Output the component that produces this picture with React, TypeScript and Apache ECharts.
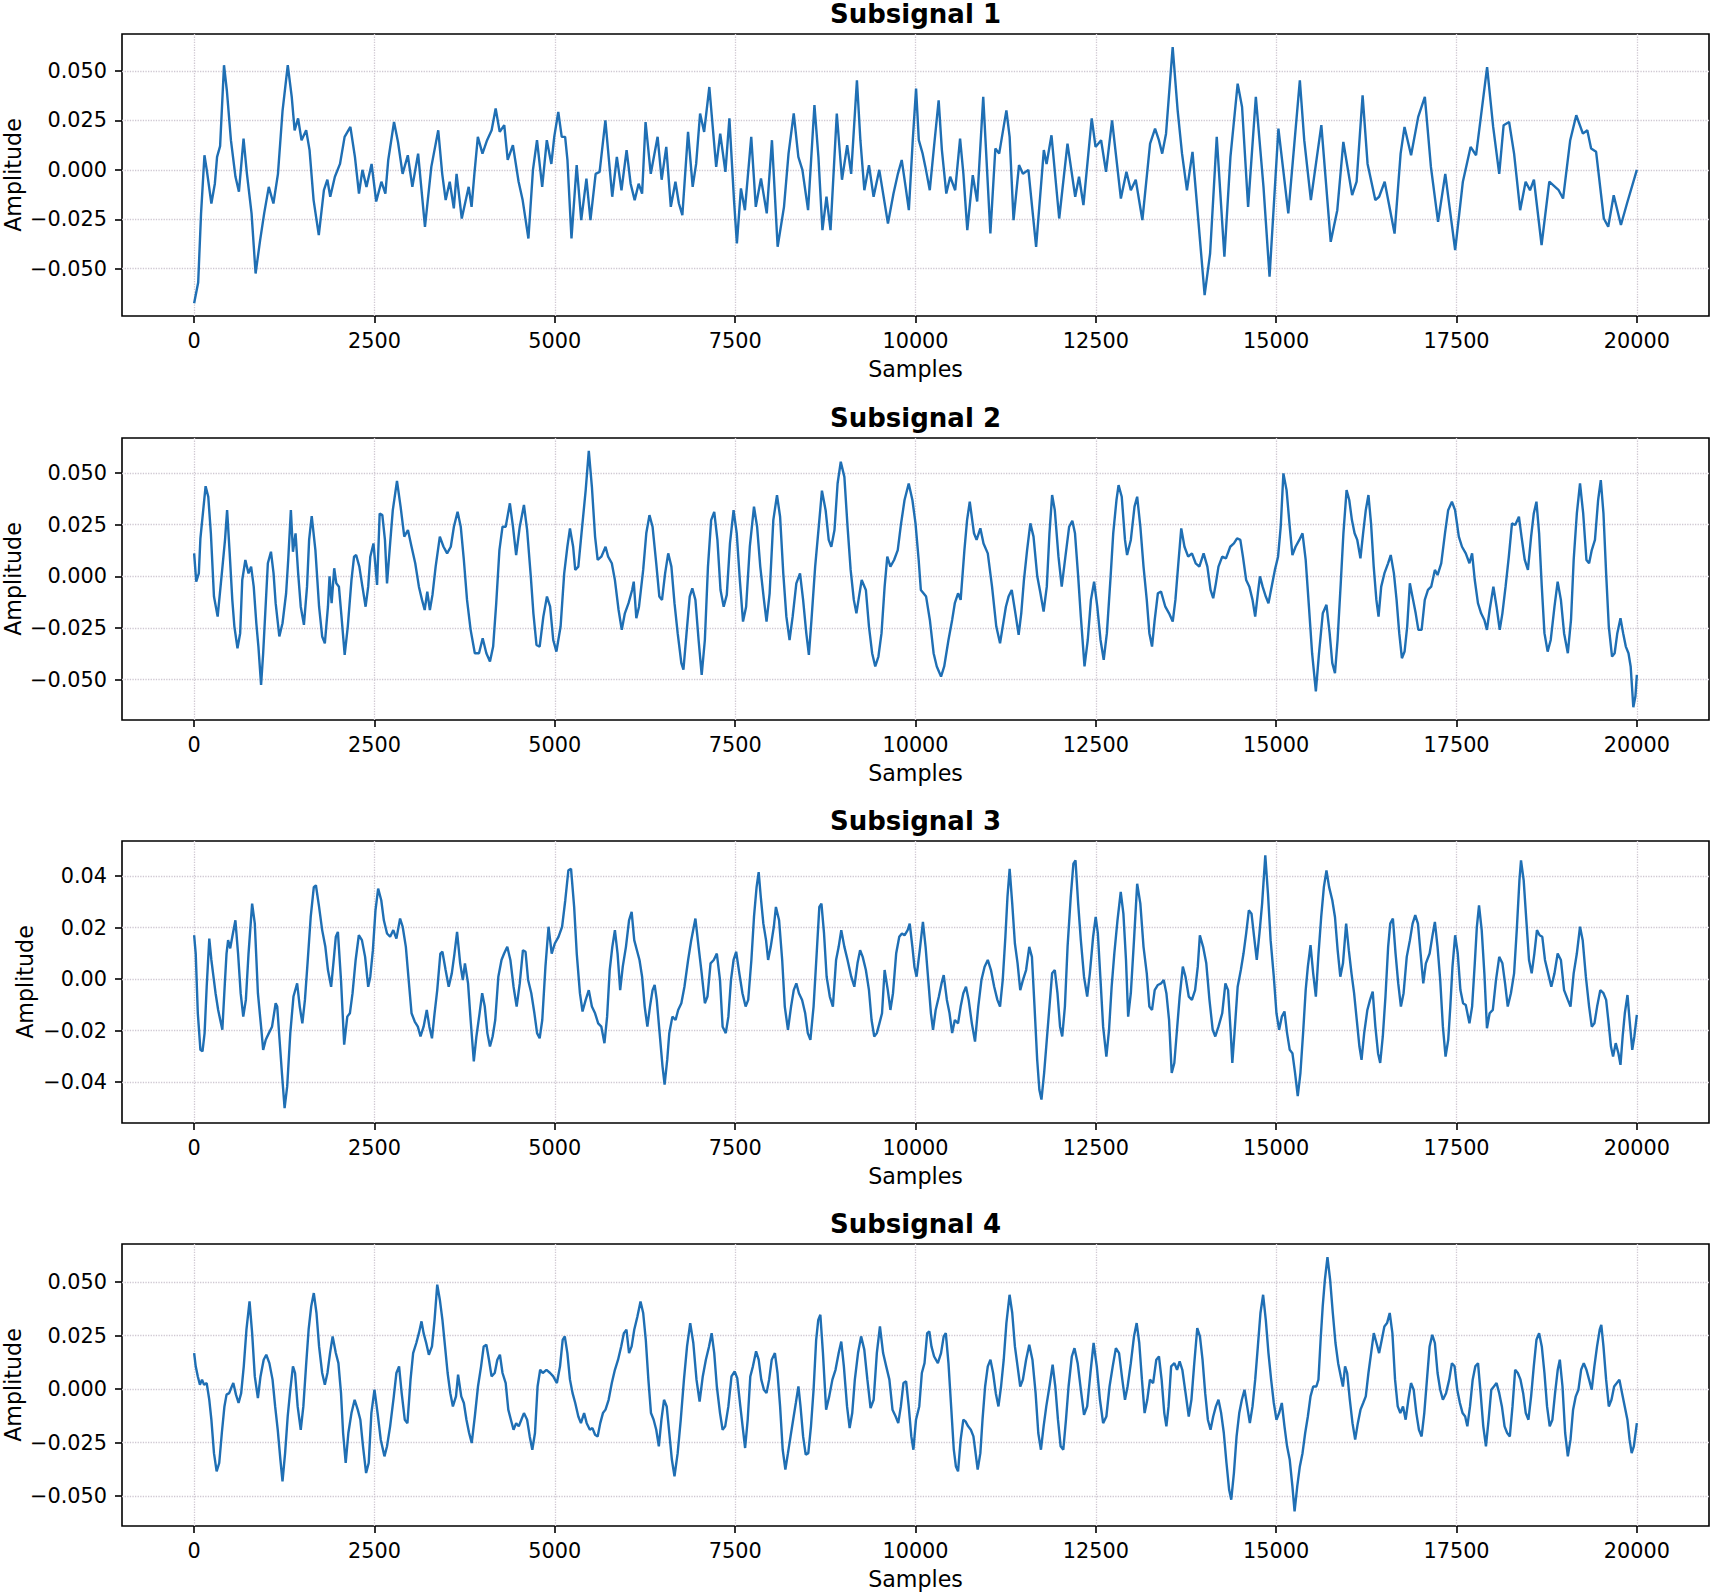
import React, { useEffect, useRef } from "react";
import * as echarts from "echarts";

// sample axis
const xTicks = [0, 2500, 5000, 7500, 10000, 12500, 15000, 17500, 20000];

// amplitude ticks per subplot
const yTicksA = [-0.05, -0.025, 0, 0.025, 0.05];
const yTicksB = [-0.04, -0.02, 0, 0.02, 0.04];

const titles = ["Subsignal 1", "Subsignal 2", "Subsignal 3", "Subsignal 4"];

// [sample, amplitude]
const sub1 = [
  [0, -0.0675], [56, -0.057], [96, -0.022], [143, 0.0074], [175, 0.0], [239, -0.017], [287, -0.007], [318, 0.0066], [360, 0.012],
  [414, 0.0529], [454, 0.04], [510, 0.015], [573, -0.0035], [621, -0.011], [685, 0.0158], [732, -0.002], [796, -0.022], [852, -0.0524],
  [915, -0.0355], [971, -0.022], [1035, -0.0086], [1099, -0.017], [1162, -0.002], [1226, 0.03], [1298, 0.0529], [1353, 0.0369],
  [1393, 0.02], [1441, 0.026], [1489, 0.015], [1553, 0.02], [1600, 0.01], [1656, -0.0153], [1728, -0.033], [1799, -0.0103],
  [1847, -0.005], [1887, -0.0136], [1951, -0.0035], [2022, 0.003], [2086, 0.0167], [2166, 0.0217], [2229, 0.0066], [2285, -0.012],
  [2333, 0.0], [2389, -0.0086], [2460, 0.003], [2524, -0.016], [2596, -0.006], [2651, -0.012], [2691, 0.005], [2771, 0.0242],
  [2826, 0.0141], [2890, -0.002], [2962, 0.0074], [3025, -0.0086], [3105, 0.0082], [3200, -0.0288], [3288, 0.0015], [3384, 0.02],
  [3439, -0.002], [3487, -0.0153], [3543, -0.006], [3600, -0.0195], [3638, -0.002], [3710, -0.0246], [3806, -0.0086], [3846, -0.0187],
  [3885, -0.002], [3933, 0.0167], [3997, 0.0082], [4061, 0.015], [4124, 0.02], [4180, 0.031], [4236, 0.0192], [4299, 0.0226],
  [4347, 0.005], [4419, 0.0125], [4498, -0.006], [4554, -0.0153], [4634, -0.0347], [4697, 0.0], [4753, 0.015], [4825, -0.0086],
  [4889, 0.015], [4952, 0.003], [4992, 0.0167], [5048, 0.0293], [5096, 0.0167], [5143, 0.0167], [5175, 0.005], [5231, -0.0347],
  [5303, 0.0024], [5366, -0.0254], [5438, -0.0044], [5494, -0.0254], [5566, -0.002], [5621, -0.001], [5701, 0.025], [5796, -0.0136],
  [5860, 0.0066], [5924, -0.0103], [5995, 0.01], [6051, -0.007], [6107, -0.0153], [6162, -0.007], [6210, -0.012], [6258, 0.0242],
  [6330, -0.002], [6425, 0.0167], [6481, -0.005], [6545, 0.0116], [6608, -0.0187], [6672, -0.006], [6720, -0.017], [6768, -0.0229],
  [6847, 0.0192], [6911, -0.0086], [6959, 0.003], [7014, 0.0285], [7070, 0.0192], [7142, 0.0419], [7189, 0.0217], [7237, 0.0015],
  [7293, 0.0183], [7365, -0.001], [7420, 0.026], [7484, -0.0153], [7524, -0.0372], [7580, -0.0094], [7635, -0.0204], [7723, 0.0167],
  [7786, -0.0187], [7858, -0.0044], [7938, -0.022], [8010, 0.015], [8089, -0.0389], [8177, -0.0187], [8240, 0.0082], [8312, 0.0285],
  [8376, 0.0066], [8432, 0.0], [8511, -0.0204], [8599, 0.0327], [8654, 0.0066], [8710, -0.0305], [8766, -0.0136], [8822, -0.0305],
  [8909, 0.0285], [8981, -0.005], [9053, 0.0125], [9108, -0.002], [9188, 0.0453], [9236, 0.015], [9291, -0.0103], [9355, 0.0024],
  [9419, -0.0136], [9498, 0.0], [9618, -0.0271], [9695, -0.012], [9756, -0.002], [9809, 0.005], [9863, -0.0086], [9908, -0.0204],
  [9962, 0.015], [10008, 0.0411], [10046, 0.015], [10099, 0.0082], [10137, 0.0015], [10198, -0.0103], [10252, 0.01], [10321, 0.0352],
  [10366, 0.01], [10427, -0.012], [10481, -0.0035], [10550, -0.0103], [10618, 0.0158], [10664, -0.002], [10718, -0.0305],
  [10794, -0.0027], [10855, -0.016], [10939, 0.0369], [11038, -0.0322], [11107, 0.0108], [11160, 0.0082], [11260, 0.0301],
  [11305, 0.0167], [11359, -0.0254], [11435, 0.0024], [11489, -0.002], [11565, 0.0], [11672, -0.0389], [11779, 0.01], [11817, 0.003],
  [11885, 0.0175], [11992, -0.0246], [12107, 0.0133], [12214, -0.0136], [12267, -0.0035], [12328, -0.0178], [12443, 0.026],
  [12496, 0.0116], [12573, 0.015], [12641, -0.001], [12725, 0.025], [12847, -0.0145], [12924, -0.001], [12985, -0.0103],
  [13053, -0.005], [13145, -0.0254], [13252, 0.0133], [13321, 0.0209], [13374, 0.015], [13420, 0.0082], [13473, 0.0183],
  [13565, 0.0621], [13634, 0.0301], [13695, 0.0082], [13763, -0.0103], [13840, 0.0091], [13901, -0.017], [14008, -0.0633],
  [14084, -0.0423], [14176, 0.0167], [14282, -0.0439], [14366, 0.0066], [14466, 0.0436], [14527, 0.0318], [14611, -0.0187],
  [14718, 0.0369], [14824, -0.0086], [14908, -0.054], [15031, 0.0209], [15168, -0.022], [15328, 0.0453], [15389, 0.015],
  [15481, -0.0153], [15626, 0.0226], [15756, -0.0364], [15847, -0.0204], [15931, 0.0141], [16053, -0.0128], [16115, -0.006],
  [16198, 0.0377], [16267, 0.003], [16374, -0.0153], [16427, -0.0136], [16504, -0.006], [16641, -0.0322], [16725, 0.0082],
  [16779, 0.0217], [16870, 0.0074], [16969, 0.0268], [17061, 0.0369], [17145, 0.0015], [17244, -0.0263], [17344, -0.002],
  [17481, -0.0406], [17588, -0.006], [17695, 0.0116], [17771, 0.0074], [17924, 0.052], [18008, 0.0217], [18092, -0.002],
  [18153, 0.0226], [18229, 0.0242], [18298, 0.0082], [18382, -0.0204], [18458, -0.006], [18519, -0.0103], [18573, -0.005],
  [18679, -0.038], [18786, -0.006], [18916, -0.0103], [18977, -0.0145], [19076, 0.015], [19160, 0.0276], [19252, 0.0183],
  [19313, 0.02], [19366, 0.0108], [19435, 0.0091], [19542, -0.0246], [19603, -0.0288], [19679, -0.0128], [19779, -0.0279],
  [19863, -0.017], [20000, 0.0],
];

const sub2 = [
  [0, 0.0111], [29, -0.0026], [65, 0.0014], [87, 0.0184], [159, 0.0436], [196, 0.0385], [232, 0.0208], [275, -0.0098], [326, -0.0195],
  [384, 0.0014], [428, 0.0176], [457, 0.032], [493, 0.0111], [529, -0.0114], [558, -0.0243], [601, -0.0348], [638, -0.0275],
  [667, -0.0018], [710, 0.0079], [754, 0.0014], [790, 0.0047], [826, -0.005], [862, -0.0227], [891, -0.034], [928, -0.0525],
  [957, -0.0372], [993, -0.013], [1022, 0.0063], [1065, 0.0119], [1101, 0.0014], [1130, -0.013], [1181, -0.0291], [1225, -0.0227],
  [1275, -0.0082], [1304, 0.0079], [1341, 0.032], [1370, 0.0119], [1406, 0.0208], [1442, 0.0014], [1478, -0.0147], [1522, -0.0235],
  [1565, -0.005], [1594, 0.0176], [1630, 0.0291], [1681, 0.0127], [1732, -0.0147], [1775, -0.0291], [1812, -0.0324], [1855, -0.0147],
  [1877, 0.0], [1906, -0.013], [1942, 0.0039], [1971, -0.0034], [2007, -0.005], [2043, -0.0195], [2087, -0.038], [2130, -0.0243],
  [2181, -0.0018], [2217, 0.0095], [2246, 0.0103], [2290, 0.0047], [2333, -0.005], [2377, -0.0147], [2413, -0.005], [2442, 0.0095],
  [2486, 0.0159], [2536, -0.0042], [2572, 0.0304], [2609, 0.0296], [2645, 0.0176], [2674, -0.0034], [2717, 0.0159], [2754, 0.032],
  [2812, 0.0462], [2862, 0.0337], [2913, 0.0192], [2964, 0.0224], [3014, 0.0143], [3065, 0.0063], [3116, -0.005], [3159, -0.0114],
  [3196, -0.0163], [3232, -0.0074], [3268, -0.0163], [3304, -0.009], [3348, 0.0047], [3406, 0.0192], [3457, 0.0143], [3507, 0.0111],
  [3558, 0.0143], [3601, 0.024], [3652, 0.0312], [3696, 0.024], [3739, 0.0079], [3783, -0.0114], [3833, -0.0259], [3891, -0.0372],
  [3949, -0.0372], [4000, -0.03], [4051, -0.0372], [4101, -0.0412], [4145, -0.034], [4188, -0.013], [4232, 0.0127], [4275, 0.024],
  [4319, 0.024], [4377, 0.0353], [4420, 0.024], [4464, 0.0103], [4514, 0.024], [4572, 0.0345], [4616, 0.0224], [4667, 0.0],
  [4703, -0.0179], [4746, -0.0332], [4790, -0.034], [4841, -0.0195], [4891, -0.0098], [4935, -0.0147], [4978, -0.0308],
  [5022, -0.0364], [5080, -0.0243], [5130, 0.0014], [5174, 0.0143], [5210, 0.0232], [5254, 0.0143], [5283, 0.0031], [5326, 0.0047],
  [5370, 0.0208], [5428, 0.0417], [5471, 0.0607], [5514, 0.0433], [5558, 0.0192], [5594, 0.0079], [5645, 0.0095], [5703, 0.0143],
  [5739, 0.0095], [5790, 0.0063], [5833, -0.0018], [5884, -0.0163], [5928, -0.0259], [5971, -0.0179], [6022, -0.013], [6072, -0.0066],
  [6094, -0.0026], [6130, -0.0203], [6167, -0.0147], [6225, 0.0031], [6268, 0.0208], [6312, 0.0296], [6355, 0.024], [6406, 0.0063],
  [6449, -0.0098], [6486, -0.0114], [6529, 0.0014], [6572, 0.0111], [6616, 0.0047], [6659, -0.013], [6703, -0.0275], [6754, -0.042],
  [6783, -0.0452], [6826, -0.0275], [6870, -0.0098], [6906, -0.0058], [6949, -0.0114], [6993, -0.0308], [7036, -0.0477],
  [7080, -0.0308], [7123, 0.0047], [7167, 0.0272], [7210, 0.0312], [7254, 0.0176], [7297, -0.0066], [7341, -0.0147], [7384, -0.009],
  [7428, 0.0159], [7478, 0.032], [7522, 0.0208], [7565, -0.0018], [7609, -0.0219], [7652, -0.0147], [7703, 0.0143], [7761, 0.0337],
  [7804, 0.024], [7848, 0.0047], [7899, -0.0114], [7935, -0.0219], [7978, -0.0082], [8029, 0.0272], [8080, 0.0393], [8123, 0.0288],
  [8167, 0.0014], [8210, -0.0195], [8254, -0.0308], [8297, -0.0195], [8348, -0.0034], [8399, 0.0014], [8442, -0.0114], [8486, -0.0275],
  [8522, -0.038], [8558, -0.0211], [8609, 0.0047], [8659, 0.024], [8703, 0.0414], [8754, 0.032], [8797, 0.0176], [8833, 0.0143],
  [8877, 0.0224], [8920, 0.0449], [8964, 0.0554], [9014, 0.0481], [9058, 0.024], [9101, 0.0031], [9145, -0.0114], [9181, -0.0179],
  [9217, -0.0098], [9254, -0.0018], [9312, -0.0066], [9355, -0.0243], [9399, -0.0372], [9442, -0.0436], [9486, -0.0388],
  [9529, -0.0275], [9572, -0.005], [9609, 0.0095], [9652, 0.0047], [9703, 0.0079], [9754, 0.0127], [9797, 0.0248], [9848, 0.0369],
  [9906, 0.0449], [9957, 0.0369], [10000, 0.0256], [10044, 0.0079], [10074, -0.0066], [10111, -0.0082], [10147, -0.0098],
  [10199, -0.0211], [10251, -0.0372], [10295, -0.0436], [10354, -0.0485], [10398, -0.0436], [10457, -0.0308], [10508, -0.0211],
  [10545, -0.013], [10590, -0.0082], [10626, -0.0114], [10678, 0.0127], [10715, 0.0272], [10752, 0.0361], [10811, 0.0208],
  [10847, 0.0176], [10899, 0.0232], [10943, 0.0159], [11002, 0.0111], [11061, -0.005], [11120, -0.0243], [11172, -0.0324],
  [11209, -0.0243], [11253, -0.0147], [11290, -0.0098], [11334, -0.0066], [11385, -0.0179], [11430, -0.0283], [11466, -0.0179],
  [11503, -0.0018], [11547, 0.0127], [11592, 0.0256], [11636, 0.0192], [11688, 0.0], [11732, -0.0082], [11776, -0.0171],
  [11820, -0.005], [11857, 0.0208], [11894, 0.0393], [11931, 0.032], [11982, 0.0095], [12027, -0.005], [12078, 0.0095], [12130, 0.024],
  [12174, 0.0269], [12211, 0.0208], [12255, 0.0], [12292, -0.0195], [12343, -0.0436], [12388, -0.0308], [12432, -0.0114],
  [12476, -0.0026], [12520, -0.0147], [12565, -0.0308], [12609, -0.0404], [12653, -0.0275], [12705, 0.0], [12741, 0.0208],
  [12786, 0.0369], [12815, 0.0441], [12859, 0.0385], [12904, 0.0176], [12933, 0.0103], [12985, 0.0176], [13036, 0.0337],
  [13073, 0.0385], [13117, 0.024], [13161, 0.0047], [13206, -0.0114], [13242, -0.0275], [13279, -0.034], [13316, -0.0211],
  [13360, -0.0082], [13404, -0.0074], [13463, -0.0147], [13515, -0.0179], [13566, -0.0219], [13603, -0.0114], [13640, 0.0047],
  [13684, 0.0232], [13729, 0.0143], [13780, 0.0095], [13832, 0.0111], [13884, 0.0063], [13935, 0.0047], [13994, 0.0111],
  [14046, 0.0047], [14090, -0.0066], [14127, -0.0106], [14164, -0.0034], [14200, 0.0047], [14252, 0.0095], [14304, 0.0087],
  [14363, 0.0143], [14414, 0.0159], [14458, 0.0184], [14503, 0.0176], [14539, 0.0095], [14584, -0.0018], [14628, -0.005],
  [14672, -0.0114], [14709, -0.0195], [14746, -0.0082], [14775, 0.0], [14812, -0.005], [14856, -0.0098], [14893, -0.013],
  [14937, -0.005], [14982, 0.0031], [15026, 0.0095], [15063, 0.024], [15100, 0.0498], [15144, 0.0417], [15188, 0.024], [15225, 0.0103],
  [15269, 0.0143], [15321, 0.0176], [15365, 0.0208], [15409, 0.0079], [15454, -0.0147], [15498, -0.0372], [15550, -0.0557],
  [15594, -0.0372], [15646, -0.0179], [15697, -0.0138], [15741, -0.0275], [15778, -0.042], [15815, -0.0469], [15851, -0.0308],
  [15895, -0.0034], [15932, 0.0208], [15976, 0.0417], [16013, 0.0369], [16050, 0.0272], [16087, 0.0208], [16124, 0.0176],
  [16168, 0.0087], [16205, 0.0208], [16242, 0.032], [16279, 0.0393], [16315, 0.0256], [16352, 0.0047], [16389, -0.0114],
  [16419, -0.0195], [16456, -0.005], [16500, 0.0014], [16551, 0.0063], [16588, 0.0103], [16632, 0.0014], [16669, -0.0114],
  [16706, -0.0275], [16743, -0.0396], [16780, -0.0364], [16816, -0.0243], [16853, -0.0034], [16898, -0.0114], [16934, -0.0179],
  [16971, -0.0259], [17016, -0.0259], [17060, -0.0114], [17104, -0.0066], [17149, -0.005], [17200, 0.0031], [17237, 0.0006],
  [17288, 0.0063], [17340, 0.0208], [17384, 0.032], [17436, 0.0361], [17480, 0.032], [17532, 0.0192], [17576, 0.0143], [17628, 0.0111],
  [17679, 0.0063], [17716, 0.0111], [17753, -0.0018], [17797, -0.013], [17841, -0.0179], [17886, -0.0211], [17922, -0.0259],
  [17959, -0.0163], [18011, -0.005], [18055, -0.0147], [18099, -0.0259], [18136, -0.0179], [18180, -0.005], [18225, 0.0095],
  [18269, 0.0256], [18313, 0.0248], [18365, 0.0288], [18401, 0.0192], [18446, 0.0079], [18490, 0.0031], [18534, 0.0192],
  [18571, 0.0304], [18608, 0.0361], [18645, 0.0208], [18682, -0.005], [18719, -0.0275], [18763, -0.0364], [18806, -0.0308],
  [18858, -0.0147], [18902, -0.0026], [18947, -0.0114], [18991, -0.0275], [19043, -0.0372], [19087, -0.0211], [19124, 0.0079],
  [19168, 0.0304], [19212, 0.0449], [19256, 0.0304], [19301, 0.0079], [19338, 0.0063], [19375, 0.0127], [19419, 0.0176],
  [19463, 0.0369], [19500, 0.0465], [19537, 0.0304], [19574, 0.0014], [19611, -0.0243], [19656, -0.0388], [19692, -0.0372],
  [19729, -0.0275], [19773, -0.0203], [19810, -0.0275], [19847, -0.034], [19884, -0.0372], [19914, -0.0436], [19951, -0.0633],
  [19980, -0.058], [20000, -0.0477],
];

const sub3 = [
  [0, 0.017], [22, 0.0099], [51, -0.0133], [87, -0.0275], [116, -0.0281], [145, -0.021], [174, -0.003], [210, 0.0157], [239, 0.0074],
  [268, 0.0009], [297, -0.0055], [333, -0.012], [362, -0.0159], [391, -0.0197], [428, -0.0004], [449, 0.0099], [471, 0.0151],
  [500, 0.0119], [529, 0.0164], [572, 0.0228], [609, 0.0099], [645, -0.0055], [681, -0.0146], [717, -0.0081], [754, 0.0099],
  [804, 0.0293], [841, 0.0215], [884, -0.0055], [928, -0.0185], [957, -0.0275], [993, -0.0236], [1036, -0.021], [1080, -0.0185],
  [1130, -0.0094], [1152, -0.0107], [1181, -0.0223], [1217, -0.0365], [1254, -0.0501], [1290, -0.0417], [1333, -0.021],
  [1377, -0.0068], [1428, -0.0017], [1464, -0.0107], [1500, -0.0172], [1536, -0.0081], [1572, 0.0061], [1616, 0.0241], [1659, 0.0357],
  [1688, 0.0364], [1732, 0.028], [1775, 0.019], [1819, 0.0125], [1855, 0.0035], [1899, -0.003], [1935, 0.0074], [1964, 0.0164],
  [1993, 0.0183], [2036, -0.0004], [2080, -0.0255], [2123, -0.0146], [2159, -0.0133], [2196, -0.0055], [2239, 0.0074], [2283, 0.017],
  [2326, 0.0151], [2370, 0.0086], [2413, -0.003], [2442, 0.0009], [2478, 0.0112], [2514, 0.0267], [2551, 0.0351], [2594, 0.0306],
  [2630, 0.0228], [2674, 0.0177], [2717, 0.0164], [2761, 0.019], [2804, 0.0157], [2855, 0.0235], [2891, 0.0203], [2935, 0.0125],
  [2978, -0.0017], [3014, -0.0133], [3058, -0.0165], [3101, -0.0185], [3138, -0.0223], [3181, -0.0185], [3225, -0.012],
  [3261, -0.0185], [3297, -0.023], [3333, -0.0133], [3370, -0.0043], [3413, 0.0099], [3442, 0.0106], [3486, 0.0035], [3529, -0.003],
  [3572, 0.0022], [3609, 0.0099], [3645, 0.0183], [3688, 0.0061], [3725, -0.0004], [3754, 0.0061], [3797, -0.0017], [3833, -0.0159],
  [3877, -0.032], [3913, -0.0223], [3957, -0.0133], [3993, -0.0055], [4029, -0.0107], [4065, -0.021], [4101, -0.0262],
  [4138, -0.0223], [4174, -0.0159], [4217, 0.0009], [4261, 0.0074], [4297, 0.0099], [4341, 0.0125], [4384, 0.0074], [4428, -0.003],
  [4471, -0.0107], [4514, -0.0017], [4558, 0.0112], [4594, 0.0106], [4630, -0.0004], [4674, -0.0055], [4717, -0.0133], [4754, -0.021],
  [4790, -0.023], [4826, -0.0159], [4870, 0.0048], [4913, 0.0203], [4957, 0.0099], [5000, 0.0138], [5051, 0.0164], [5101, 0.0203],
  [5145, 0.0306], [5188, 0.0422], [5225, 0.0428], [5268, 0.028], [5304, 0.0099], [5348, -0.0055], [5384, -0.0126], [5428, -0.0081],
  [5471, -0.0043], [5514, -0.0107], [5558, -0.0133], [5601, -0.0172], [5645, -0.0185], [5688, -0.0249], [5725, -0.0146],
  [5761, 0.0035], [5797, 0.0125], [5833, 0.019], [5870, 0.0099], [5906, -0.0043], [5942, 0.0048], [5986, 0.0125], [6029, 0.0228],
  [6065, 0.0261], [6101, 0.0151], [6138, 0.0112], [6174, 0.0074], [6210, 0.0009], [6246, -0.0107], [6283, -0.0185], [6319, -0.0107],
  [6355, -0.0043], [6384, -0.0023], [6413, -0.0081], [6449, -0.0197], [6493, -0.0339], [6522, -0.041], [6558, -0.0314],
  [6587, -0.021], [6630, -0.0146], [6674, -0.0159], [6710, -0.012], [6754, -0.0094], [6797, -0.003], [6848, 0.0074], [6891, 0.0151],
  [6949, 0.0235], [6993, 0.0125], [7036, 0.0022], [7080, -0.0094], [7116, -0.0068], [7159, 0.0061], [7203, 0.0074], [7246, 0.0099],
  [7290, -0.0004], [7326, -0.0185], [7370, -0.021], [7406, -0.0146], [7442, -0.0004], [7478, 0.0074], [7514, 0.0106], [7558, 0.0022],
  [7601, -0.0055], [7645, -0.0107], [7681, -0.0081], [7725, 0.0074], [7761, 0.0241], [7797, 0.0357], [7826, 0.0415], [7855, 0.0319],
  [7891, 0.0215], [7928, 0.0151], [7957, 0.0074], [7993, 0.0125], [8036, 0.0203], [8065, 0.028], [8109, 0.0228], [8152, 0.0074],
  [8188, -0.0107], [8232, -0.0197], [8275, -0.0107], [8312, -0.0043], [8348, -0.0017], [8384, -0.0055], [8428, -0.0081],
  [8471, -0.0133], [8507, -0.021], [8543, -0.0236], [8587, -0.0107], [8630, 0.0099], [8667, 0.028], [8696, 0.0293], [8732, 0.0177],
  [8768, 0.0009], [8812, -0.0068], [8855, -0.0107], [8899, 0.0074], [8935, 0.0125], [8971, 0.019], [9014, 0.0125], [9058, 0.0074],
  [9109, 0.0009], [9152, -0.003], [9196, 0.0061], [9232, 0.0112], [9268, 0.0086], [9312, 0.0035], [9355, -0.0043], [9391, -0.0159],
  [9428, -0.0223], [9464, -0.021], [9500, -0.0172], [9536, -0.0133], [9572, 0.0035], [9616, -0.0043], [9652, -0.012], [9688, -0.0055],
  [9732, 0.0099], [9775, 0.0164], [9812, 0.0177], [9848, 0.017], [9891, 0.019], [9920, 0.0215], [9957, 0.0125], [9985, 0.0048],
  [10015, 0.0009], [10059, 0.0112], [10103, 0.0222], [10140, 0.0125], [10177, -0.0004], [10214, -0.0133], [10243, -0.0197],
  [10280, -0.012], [10324, -0.0068], [10361, -0.0017], [10391, 0.0015], [10435, -0.0081], [10472, -0.0133], [10508, -0.021],
  [10545, -0.0159], [10590, -0.0172], [10626, -0.0107], [10663, -0.0055], [10700, -0.003], [10737, -0.0081], [10781, -0.0172],
  [10825, -0.0243], [10870, -0.0107], [10914, -0.0004], [10958, 0.0048], [11002, 0.0074], [11046, 0.0035], [11091, -0.003],
  [11135, -0.0081], [11172, -0.0107], [11209, -0.0004], [11246, 0.0164], [11275, 0.0319], [11305, 0.0428], [11341, 0.0293],
  [11378, 0.0138], [11415, 0.0061], [11452, -0.0043], [11489, -0.0004], [11533, 0.0035], [11577, 0.0125], [11614, 0.0086],
  [11650, -0.0107], [11687, -0.0314], [11717, -0.043], [11746, -0.0468], [11783, -0.0365], [11820, -0.0236], [11857, -0.0107],
  [11894, 0.0022], [11931, 0.0035], [11968, -0.0055], [12004, -0.0185], [12034, -0.0223], [12071, -0.0107], [12108, 0.0125],
  [12152, 0.0319], [12189, 0.0448], [12218, 0.0461], [12255, 0.0293], [12292, 0.0151], [12336, 0.0009], [12380, -0.0068],
  [12417, 0.0022], [12462, 0.0164], [12498, 0.0241], [12528, 0.0177], [12565, -0.0004], [12601, -0.0185], [12646, -0.0301],
  [12683, -0.0197], [12719, -0.003], [12756, 0.0099], [12800, 0.0228], [12845, 0.0338], [12882, 0.0254], [12918, 0.0074],
  [12948, -0.0146], [12985, -0.0055], [13029, 0.0151], [13073, 0.037], [13117, 0.0293], [13161, 0.0125], [13206, 0.0022],
  [13242, -0.0107], [13279, -0.012], [13316, -0.0043], [13360, -0.0023], [13404, -0.0017], [13441, -0.0004], [13478, -0.0055],
  [13515, -0.0159], [13552, -0.0365], [13588, -0.0326], [13625, -0.0197], [13662, -0.0068], [13706, 0.0048], [13743, 0.0009],
  [13788, -0.0068], [13832, -0.0081], [13876, -0.0043], [13913, 0.0048], [13942, 0.017], [13987, 0.0125], [14031, 0.0061],
  [14075, -0.0081], [14120, -0.0197], [14156, -0.0223], [14200, -0.0185], [14252, -0.0133], [14296, -0.0017], [14333, -0.0043],
  [14370, -0.021], [14392, -0.0326], [14422, -0.021], [14466, -0.003], [14510, 0.0035], [14547, 0.0099], [14584, 0.0177],
  [14621, 0.0267], [14658, 0.0254], [14694, 0.0164], [14731, 0.0074], [14768, 0.0177], [14805, 0.0293], [14849, 0.048],
  [14886, 0.0332], [14923, 0.0151], [14967, 0.0009], [15004, -0.0133], [15041, -0.0197], [15078, -0.0146], [15115, -0.0126],
  [15151, -0.021], [15188, -0.0275], [15225, -0.0288], [15262, -0.0365], [15299, -0.0455], [15336, -0.0365], [15373, -0.021],
  [15409, -0.0043], [15439, 0.0048], [15476, 0.0132], [15513, 0.0022], [15550, -0.0068], [15587, 0.0099], [15624, 0.0241],
  [15661, 0.0357], [15697, 0.0422], [15734, 0.0357], [15778, 0.0306], [15815, 0.0241], [15852, 0.0112], [15889, 0.0009],
  [15926, 0.0061], [15970, 0.0215], [16007, 0.0112], [16044, 0.0022], [16080, -0.0055], [16117, -0.0159], [16154, -0.0262],
  [16183, -0.0314], [16220, -0.021], [16264, -0.012], [16301, -0.0081], [16338, -0.0049], [16375, -0.0185], [16412, -0.0288],
  [16442, -0.0326], [16478, -0.0223], [16515, -0.0068], [16552, 0.0125], [16581, 0.0215], [16618, 0.0235], [16655, 0.0099],
  [16692, -0.0017], [16729, -0.0107], [16766, -0.0055], [16810, 0.0086], [16854, 0.0151], [16891, 0.0215], [16928, 0.0248],
  [16965, 0.0215], [17002, 0.0099], [17039, -0.0017], [17075, 0.0061], [17127, 0.0099], [17164, 0.0164], [17200, 0.0222],
  [17237, 0.0125], [17274, -0.0004], [17311, -0.0185], [17348, -0.0301], [17385, -0.0236], [17414, -0.0107], [17444, 0.0048],
  [17481, 0.017], [17517, 0.0099], [17554, -0.0043], [17591, -0.0094], [17628, -0.0101], [17679, -0.0172], [17716, -0.0107],
  [17753, 0.0061], [17782, 0.0203], [17812, 0.0286], [17849, 0.019], [17886, 0.0022], [17922, -0.0191], [17959, -0.0133],
  [18003, -0.012], [18047, -0.0004], [18092, 0.0086], [18136, 0.0061], [18173, -0.0017], [18210, -0.0107], [18254, -0.0055],
  [18298, 0.0022], [18335, 0.019], [18372, 0.0383], [18394, 0.0461], [18431, 0.0383], [18468, 0.0228], [18505, 0.0074],
  [18542, 0.0022], [18579, 0.0099], [18615, 0.019], [18652, 0.017], [18689, 0.0164], [18726, 0.0074], [18770, 0.0022],
  [18814, -0.003], [18858, 0.0022], [18902, 0.0099], [18947, 0.0074], [18991, -0.0043], [19043, -0.0081], [19080, -0.0107],
  [19124, 0.0022], [19168, 0.0099], [19212, 0.0203], [19249, 0.0151], [19293, 0.0009], [19338, -0.0107], [19375, -0.0185],
  [19412, -0.0172], [19449, -0.0107], [19493, -0.0043], [19537, -0.0055], [19574, -0.0081], [19604, -0.0159], [19641, -0.0262],
  [19670, -0.0301], [19707, -0.0249], [19744, -0.0288], [19773, -0.0333], [19803, -0.0223], [19833, -0.0133], [19870, -0.0062],
  [19899, -0.0159], [19936, -0.0275], [19965, -0.0223], [20000, -0.0139],
];

const sub4 = [
  [0, 0.0168], [22, 0.0106], [51, 0.0059], [80, 0.002], [109, 0.0044], [138, 0.002], [174, 0.0028], [210, -0.005], [239, -0.0143],
  [275, -0.0299], [312, -0.0384], [348, -0.0345], [384, -0.0205], [420, -0.0081], [449, -0.0026], [486, -0.0019], [522, 0.0012],
  [543, 0.0028], [580, -0.0026], [616, -0.0065], [652, -0.0019], [688, 0.0106], [725, 0.0277], [768, 0.0409], [804, 0.0261],
  [841, 0.0059], [884, -0.0042], [920, 0.0059], [964, 0.0137], [1000, 0.016], [1043, 0.0121], [1087, 0.0044], [1123, -0.0081],
  [1159, -0.019], [1196, -0.033], [1225, -0.0431], [1261, -0.0299], [1297, -0.0128], [1333, -0.0003], [1370, 0.0106], [1399, 0.0075],
  [1435, -0.0081], [1478, -0.019], [1514, -0.0081], [1551, 0.0106], [1587, 0.0277], [1623, 0.0386], [1659, 0.0448], [1696, 0.0355],
  [1732, 0.0199], [1775, 0.0075], [1812, 0.002], [1848, 0.0075], [1884, 0.0168], [1920, 0.0246], [1964, 0.0168], [2000, 0.0121],
  [2036, -0.0019], [2065, -0.0205], [2101, -0.0345], [2138, -0.0205], [2181, -0.0112], [2225, -0.005], [2268, -0.0096],
  [2304, -0.0143], [2341, -0.0267], [2384, -0.0392], [2420, -0.0345], [2457, -0.0112], [2500, -0.0003], [2543, -0.0112],
  [2587, -0.0236], [2638, -0.0314], [2674, -0.0267], [2717, -0.0174], [2768, -0.0034], [2804, 0.0075], [2841, 0.0106],
  [2877, -0.0019], [2920, -0.0143], [2957, -0.0159], [3000, 0.0044], [3036, 0.0168], [3080, 0.0215], [3116, 0.0261], [3152, 0.0316],
  [3181, 0.0261], [3217, 0.0215], [3254, 0.016], [3297, 0.0199], [3333, 0.0323], [3370, 0.0487], [3406, 0.0417], [3442, 0.0323],
  [3478, 0.0199], [3514, 0.0075], [3551, -0.0019], [3587, -0.0081], [3630, -0.0034], [3659, 0.0067], [3703, -0.0034], [3739, -0.0065],
  [3775, -0.0143], [3812, -0.0205], [3848, -0.0252], [3891, -0.0128], [3935, 0.0012], [3978, 0.0106], [4014, 0.0199], [4051, 0.0207],
  [4087, 0.0137], [4123, 0.0059], [4167, 0.0075], [4203, 0.0137], [4239, 0.016], [4275, 0.0075], [4319, 0.0028], [4355, -0.0096],
  [4391, -0.0143], [4428, -0.019], [4464, -0.0159], [4500, -0.0174], [4536, -0.0143], [4572, -0.0112], [4616, -0.0143],
  [4652, -0.0221], [4688, -0.0283], [4725, -0.0205], [4761, 0.0012], [4797, 0.009], [4833, 0.0075], [4884, 0.009], [4935, 0.0075],
  [4978, 0.0059], [5029, 0.0028], [5072, 0.0106], [5109, 0.023], [5138, 0.0246], [5174, 0.0168], [5210, 0.0044], [5246, -0.0019],
  [5283, -0.0065], [5326, -0.0128], [5362, -0.0159], [5406, -0.0112], [5442, -0.0159], [5486, -0.019], [5522, -0.0182],
  [5558, -0.0213], [5594, -0.0221], [5630, -0.0159], [5667, -0.0112], [5703, -0.0096], [5746, -0.005], [5790, 0.0028], [5833, 0.009],
  [5877, 0.0137], [5920, 0.0199], [5957, 0.0261], [5993, 0.0277], [6029, 0.0168], [6065, 0.0199], [6101, 0.0277], [6145, 0.0339],
  [6188, 0.0409], [6225, 0.0355], [6261, 0.023], [6297, 0.0044], [6333, -0.0112], [6370, -0.0143], [6406, -0.019], [6442, -0.0267],
  [6478, -0.0143], [6514, -0.005], [6551, -0.0081], [6587, -0.0205], [6623, -0.033], [6659, -0.0407], [6703, -0.0299],
  [6746, -0.0143], [6790, 0.0044], [6833, 0.0199], [6877, 0.0308], [6920, 0.0215], [6964, 0.0044], [7007, -0.0058], [7051, 0.0059],
  [7094, 0.0137], [7138, 0.0199], [7174, 0.0261], [7210, 0.0168], [7246, 0.0012], [7290, -0.0112], [7326, -0.019], [7362, -0.0174],
  [7406, -0.0081], [7449, 0.0059], [7493, 0.0082], [7529, 0.0051], [7572, -0.0081], [7609, -0.019], [7638, -0.0275], [7674, -0.0143],
  [7710, 0.0059], [7746, 0.0106], [7790, 0.0176], [7826, 0.0137], [7862, 0.0044], [7899, -0.0003], [7935, -0.0019], [7971, 0.0044],
  [8007, 0.0137], [8051, 0.0168], [8087, 0.0075], [8123, -0.0081], [8159, -0.0283], [8196, -0.0376], [8232, -0.0299],
  [8268, -0.0221], [8304, -0.0143], [8341, -0.0065], [8377, 0.0012], [8406, -0.0081], [8442, -0.0221], [8478, -0.0306],
  [8514, -0.0299], [8551, -0.0174], [8587, -0.0003], [8623, 0.023], [8652, 0.0323], [8681, 0.0347], [8717, 0.0168], [8761, -0.0096],
  [8804, -0.0034], [8848, 0.0044], [8891, 0.009], [8935, 0.0168], [8971, 0.0222], [9007, 0.0106], [9051, -0.0081], [9087, -0.0182],
  [9123, -0.0112], [9159, 0.0044], [9203, 0.0168], [9246, 0.0246], [9290, 0.0184], [9333, 0.0044], [9377, -0.0089], [9420, -0.005],
  [9464, 0.0168], [9507, 0.0292], [9551, 0.0168], [9594, 0.0106], [9638, 0.0044], [9681, -0.0096], [9725, -0.0128], [9761, -0.0159],
  [9797, -0.0081], [9833, 0.0028], [9870, 0.0036], [9906, -0.0081], [9942, -0.0221], [9971, -0.0283], [10007, -0.0143],
  [10052, -0.0081], [10088, 0.0075], [10125, 0.0121], [10162, 0.0261], [10192, 0.0269], [10221, 0.0199], [10258, 0.0152],
  [10310, 0.0121], [10354, 0.0168], [10391, 0.0246], [10420, 0.0261], [10457, 0.0121], [10494, -0.0081], [10531, -0.0283],
  [10560, -0.0361], [10590, -0.0384], [10626, -0.0236], [10663, -0.0143], [10693, -0.0151], [10730, -0.0174], [10767, -0.019],
  [10803, -0.0221], [10833, -0.0299], [10862, -0.0376], [10899, -0.0299], [10929, -0.0143], [10965, 0.0012], [11002, 0.0106],
  [11039, 0.0137], [11076, 0.0075], [11113, -0.0019], [11150, -0.0081], [11186, 0.0012], [11223, 0.0137], [11260, 0.0308],
  [11304, 0.044], [11341, 0.0355], [11378, 0.0199], [11415, 0.0106], [11452, 0.0012], [11489, 0.0044], [11533, 0.0137],
  [11577, 0.0207], [11621, 0.0137], [11665, -0.0019], [11702, -0.0205], [11739, -0.0283], [11776, -0.0174], [11813, -0.0081],
  [11857, 0.0012], [11901, 0.0114], [11938, 0.0012], [11975, -0.0143], [12012, -0.0267], [12049, -0.0283], [12086, -0.0143],
  [12122, 0.0012], [12167, 0.0152], [12204, 0.0191], [12248, 0.0121], [12292, -0.0003], [12336, -0.012], [12380, -0.0081],
  [12425, 0.0075], [12469, 0.0215], [12513, 0.0106], [12557, -0.005], [12601, -0.0159], [12646, -0.0128], [12690, 0.0012],
  [12734, 0.0106], [12778, 0.0191], [12822, 0.0168], [12867, 0.0044], [12904, -0.005], [12940, 0.0012], [12985, 0.0121],
  [13029, 0.0246], [13066, 0.0308], [13102, 0.0215], [13139, 0.0044], [13176, -0.0112], [13213, -0.005], [13250, 0.0044],
  [13294, 0.0028], [13338, 0.0137], [13375, 0.0152], [13412, 0.0044], [13449, -0.0112], [13478, -0.0174], [13508, -0.0081],
  [13544, 0.0106], [13589, 0.0121], [13626, 0.009], [13662, 0.0129], [13699, 0.009], [13744, -0.0019], [13788, -0.0128],
  [13825, -0.005], [13861, 0.0106], [13906, 0.0285], [13943, 0.0246], [13979, 0.0137], [14016, -0.0019], [14053, -0.0143],
  [14090, -0.019], [14127, -0.0128], [14164, -0.0081], [14200, -0.005], [14237, -0.0112], [14274, -0.0205], [14311, -0.0345],
  [14348, -0.047], [14377, -0.0516], [14414, -0.0392], [14451, -0.0221], [14488, -0.0112], [14524, -0.005], [14561, -0.0003],
  [14598, -0.0081], [14635, -0.0159], [14672, -0.0081], [14709, 0.0044], [14746, 0.0199], [14782, 0.0355], [14819, 0.044],
  [14856, 0.0323], [14893, 0.0168], [14930, 0.0044], [14967, -0.0065], [15004, -0.0143], [15041, -0.0112], [15078, -0.0065],
  [15115, -0.0174], [15151, -0.0267], [15188, -0.033], [15225, -0.0454], [15255, -0.0571], [15292, -0.0454], [15328, -0.0361],
  [15365, -0.0299], [15402, -0.0205], [15439, -0.0128], [15476, -0.0034], [15513, 0.0012], [15557, 0.0012], [15586, 0.0044],
  [15616, 0.023], [15645, 0.0386], [15675, 0.051], [15711, 0.0616], [15748, 0.051], [15785, 0.0355], [15822, 0.0215], [15859, 0.0121],
  [15896, 0.0059], [15925, 0.0012], [15955, 0.0106], [15984, 0.0075], [16021, -0.005], [16058, -0.0159], [16095, -0.0236],
  [16132, -0.0159], [16169, -0.0096], [16206, -0.0065], [16242, -0.0034], [16279, 0.0075], [16316, 0.0168], [16353, 0.0261],
  [16390, 0.0215], [16427, 0.0168], [16464, 0.023], [16500, 0.0292], [16537, 0.0308], [16574, 0.0355], [16611, 0.0261],
  [16648, 0.0044], [16685, -0.0081], [16721, -0.0112], [16758, -0.0081], [16795, -0.0143], [16832, -0.005], [16869, 0.0028],
  [16906, -0.0003], [16943, -0.0112], [16979, -0.019], [17016, -0.0221], [17053, -0.0112], [17090, 0.0044], [17127, 0.0199],
  [17164, 0.0253], [17200, 0.0215], [17237, 0.0075], [17274, -0.0003], [17311, -0.005], [17355, -0.0019], [17399, 0.0044],
  [17436, 0.0121], [17473, 0.0106], [17510, -0.0003], [17547, -0.0065], [17584, -0.0112], [17620, -0.0128], [17650, -0.0174],
  [17687, -0.0081], [17724, 0.0044], [17761, 0.0106], [17798, 0.0121], [17834, -0.0019], [17871, -0.0174], [17908, -0.0267],
  [17945, -0.0143], [17982, -0.0003], [18018, 0.0012], [18055, 0.0028], [18092, -0.0019], [18129, -0.0081], [18166, -0.0174],
  [18202, -0.0205], [18239, -0.0221], [18276, -0.0081], [18313, 0.009], [18350, 0.0075], [18387, 0.0044], [18424, -0.0019],
  [18460, -0.0112], [18497, -0.0143], [18534, -0.0034], [18571, 0.0106], [18608, 0.023], [18645, 0.0261], [18682, 0.0199],
  [18719, 0.0075], [18755, -0.0081], [18792, -0.0174], [18829, -0.0143], [18866, -0.0019], [18903, 0.009], [18932, 0.0137],
  [18969, 0.0012], [19006, -0.0205], [19043, -0.0314], [19080, -0.0236], [19116, -0.0096], [19153, -0.0034], [19190, -0.0003],
  [19227, 0.009], [19264, 0.0121], [19301, 0.009], [19338, 0.0044], [19374, -0.0003], [19411, 0.0106], [19448, 0.0199],
  [19485, 0.0277], [19507, 0.03], [19537, 0.0199], [19574, 0.0044], [19611, -0.0081], [19648, -0.005], [19685, 0.0012],
  [19722, 0.0028], [19758, 0.0044], [19795, -0.0019], [19832, -0.0081], [19869, -0.0143], [19899, -0.0236], [19928, -0.0299],
  [19958, -0.0267], [20000, -0.0159],
];

const signals = [sub1, sub2, sub3, sub4];
const yMins = [-0.0739, -0.0695, -0.0559, -0.0639];
const yMaxs = [0.0687, 0.0669, 0.0536, 0.0677];
const yTickSets = [yTicksA, yTicksA, yTicksB, yTicksA];
const yDigits = [3, 3, 2, 3];

const FONT = "DejaVu Sans";
const LINE = "#1f6fb4";
const GRIDLINE = "#cfc8d2";
const tops = [34, 438, 841, 1244];
const LEFT = 122;
const WIDTH = 1587;
const HEIGHT = 282;

function fmt(v, d) {
  if (Math.abs(v) < 1e-9) return (0).toFixed(d);
  return (v < 0 ? "\u2212" : "") + Math.abs(v).toFixed(d);
}

export default function App() {
  const el = useRef(null);

  useEffect(() => {
    if (!el.current) return;
    const chart = echarts.init(el.current, null, { renderer: "svg" });

    const grid = tops.map((t) => ({
      left: LEFT,
      top: t,
      width: WIDTH,
      height: HEIGHT,
      containLabel: false,
      outerBoundsMode: "none",
      show: true,
      borderColor: "#000",
      borderWidth: 1.6,
      backgroundColor: "transparent",
    }));

    const xAxis = tops.map((_, i) => ({
      gridIndex: i,
      type: "value",
      min: -1000,
      max: 21000,
      name: "Samples",
      nameLocation: "middle",
      nameGap: 42,
      nameMoveOverlap: false,
      nameTextStyle: { fontFamily: FONT, fontSize: 22.2, color: "#000" },
      axisLine: { show: false, onZero: false },
      axisTick: { show: true, customValues: xTicks, length: 7, lineStyle: { color: "#000", width: 1.6 } },
      axisLabel: {
        customValues: xTicks,
        margin: 14,
        fontFamily: FONT,
        fontSize: 20.8,
        color: "#000",
        formatter: (v) => String(v),
      },
      splitLine: { show: true, lineStyle: { color: GRIDLINE, type: "dotted", width: 1.3 } },
    }));

    const yAxis = tops.map((_, i) => ({
      gridIndex: i,
      type: "value",
      min: yMins[i],
      max: yMaxs[i],
      name: "Amplitude",
      nameLocation: "middle",
      nameGap: i === 2 ? 86 : 98,
      nameMoveOverlap: false,
      nameTextStyle: { fontFamily: FONT, fontSize: 22.2, color: "#000" },
      axisLine: { show: false, onZero: false },
      axisTick: { show: true, customValues: yTickSets[i], length: 7, lineStyle: { color: "#000", width: 1.6 } },
      axisLabel: {
        customValues: yTickSets[i],
        margin: 15,
        fontFamily: FONT,
        fontSize: 20.8,
        color: "#000",
        formatter: (v) => fmt(v, yDigits[i]),
      },
      splitLine: { show: true, lineStyle: { color: GRIDLINE, type: "dotted", width: 1.3 } },
    }));

    const series = signals.map((data, i) => ({
      type: "line",
      xAxisIndex: i,
      yAxisIndex: i,
      data: data,
      showSymbol: false,
      symbol: "none",
      lineStyle: { color: LINE, width: 2.4 },
    }));

    const graphic = titles.map((t, i) => ({
      type: "text",
      x: LEFT + WIDTH / 2,
      y: tops[i] - 20.5,
      style: {
        text: t,
        fontFamily: FONT,
        fontSize: 26,
        fontWeight: "bold",
        fill: "#000",
        textAlign: "center",
        textVerticalAlign: "middle",
      },
    }));

    chart.setOption({
      animation: false,
      backgroundColor: "#fff",
      grid,
      xAxis,
      yAxis,
      series,
      graphic,
    });

    return () => {
      chart.dispose();
    };
  }, []);

  return (
    <div
      ref={el}
      style={{ position: "absolute", left: 0, top: 0, width: "1713px", height: "1594px" }}
    />
  );
}
